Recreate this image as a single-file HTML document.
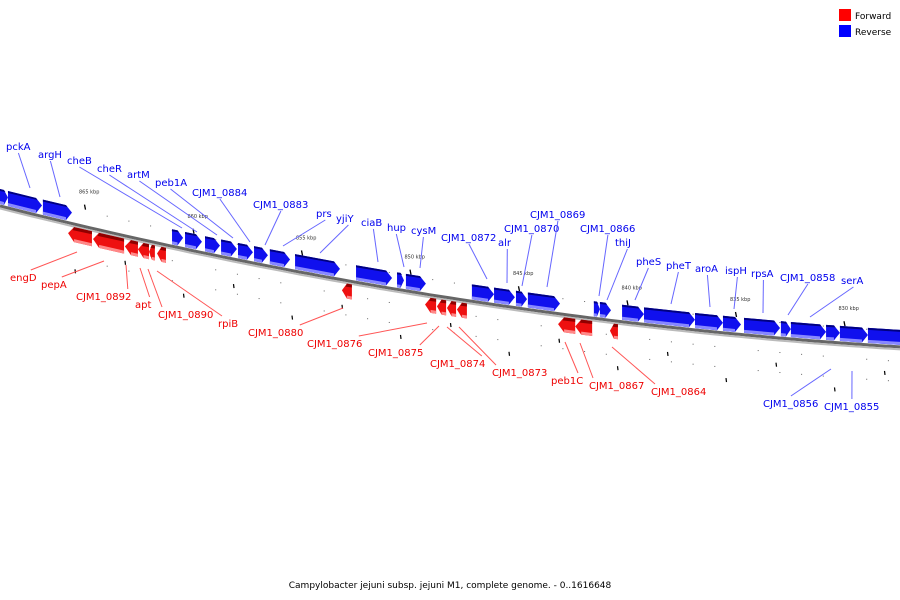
<!DOCTYPE html>
<html><head><meta charset="utf-8"><style>
html,body{margin:0;padding:0;background:#fff;}
svg{display:block;font-family:"DejaVu Sans","Liberation Sans",sans-serif;}
</style></head><body>
<svg id="chart" width="900" height="600" viewBox="0 0 900 600" xmlns="http://www.w3.org/2000/svg">
<g>
<rect x="839" y="9" width="12" height="12" fill="#ff0000"/>
<text x="855" y="19" font-size="9" fill="#000">Forward</text>
<rect x="839" y="25" width="12" height="12" fill="#0000ff"/>
<text x="855" y="35" font-size="9" fill="#000">Reverse</text>
</g>
<text x="450" y="588" text-anchor="middle" font-size="9" fill="#000">Campylobacter jejuni subsp. jejuni M1, complete genome. - 0..1616648</text>
<g id="backbone"></g>
<g id="ticks"></g>
<g id="genes"></g>
<g id="labels"></g>
</svg>
<script>
// tick positions (kbp)
const tickKbp = [865, 860, 855, 850, 845, 840, 835, 830];
const tickLabels = ["865 kbp","860 kbp","855 kbp","850 kbp","845 kbp","840 kbp","835 kbp","830 kbp"];
// gene data (kbp start/end, strand)
const geneNames = ["", "pckA","argH","cheB","cheR","artM","peb1A","CJM1_0884","CJM1_0883","prs","yjiY","ciaB","hup","cysM",
 "CJM1_0872","alr","CJM1_0870","CJM1_0869","CJM1_0866","thiJ","pheS","pheT","aroA","ispH","rpsA","CJM1_0858","g1","g2","serA",
 "engD","pepA","CJM1_0892","apt","CJM1_0890","rpiB","CJM1_0880","CJM1_0876","CJM1_0875","CJM1_0874","CJM1_0873","peb1C","CJM1_0867","CJM1_0864"];
const geneStart = [868.92,868.55,866.94,860.99,860.39,859.47,858.73,857.95,857.21,856.48,855.32,852.51,850.62,850.21,
 847.17,846.15,845.14,844.59,841.55,841.27,840.25,839.24,836.89,835.60,834.63,832.93,832.47,830.85,830.21,
 865.78,864.63,863.16,862.56,862.05,861.68,853.16,849.33,848.78,848.32,847.86,843.20,842.41,840.81];
const geneEnd = [868.55,866.98,865.60,860.48,859.61,858.78,858.00,857.26,856.57,855.55,853.25,850.85,850.30,849.29,
 846.15,845.19,844.63,843.11,841.27,840.76,839.24,836.89,835.60,834.77,832.97,832.47,830.85,830.21,828.92,
 864.68,863.20,862.56,862.05,861.78,861.27,852.70,848.82,848.36,847.90,847.40,842.41,841.63,840.44];
const geneStrand = ["-","-","-","-","-","-","-","-","-","-","-","-","-","-",
 "-","-","-","-","-","-","-","-","-","-","-","-","-","-","-",
 "+","+","+","+","+","+","+","+","+","+","+","+","+","+"];
// extra blue gene at far right edge
geneNames.push("edge"); geneStart.push(828.92); geneEnd.push(827.0); geneStrand.push("-");

// label layout: name, text x, text y, leader end x, leader end y
const labelLayout = [
 ["pckA",6,150,30,188,"b"],["argH",38,158,60,197,"b"],["cheB",67,164,182,228,"b"],["cheR",97,172,197,232,"b"],
 ["artM",127,178,217,235,"b"],["peb1A",155,186,233,238,"b"],["CJM1_0884",192,196,250,242,"b"],["CJM1_0883",253,208,265,245,"b"],
 ["prs",316,217,283,246,"b"],["yjiY",336,222,320,253,"b"],["ciaB",361,226,378,262,"b"],["hup",387,231,404,267,"b"],
 ["cysM",411,234,420,268,"b"],["CJM1_0872",441,241,487,279,"b"],["alr",498,246,507,283,"b"],["CJM1_0870",504,232,522,286,"b"],
 ["CJM1_0869",530,218,547,287,"b"],["CJM1_0866",580,232,599,296,"b"],["thiJ",615,246,607,300,"b"],["pheS",636,265,635,300,"b"],
 ["pheT",666,269,671,304,"b"],["aroA",695,272,710,307,"b"],["ispH",725,274,734,309,"b"],["rpsA",751,277,763,313,"b"],
 ["CJM1_0858",780,281,788,315,"b"],["serA",841,284,810,317,"b"],["CJM1_0856",763,407,831,369,"b"],["CJM1_0855",824,410,852,371,"b"],
 ["engD",10,281,77,252,"r"],["pepA",41,288,104,261,"r"],["CJM1_0892",76,300,126,265,"r"],["apt",135,308,140,268,"r"],
 ["CJM1_0890",158,318,148,269,"r"],["rpiB",218,327,157,271,"r"],["CJM1_0880",248,336,343,308,"r"],["CJM1_0876",307,347,427,323,"r"],
 ["CJM1_0875",368,356,439,326,"r"],["CJM1_0874",430,367,447,327,"r"],["CJM1_0873",492,376,459,327,"r"],["peb1C",551,384,565,342,"r"],
 ["CJM1_0867",589,389,580,343,"r"],["CJM1_0864",651,395,612,347,"r"]
];

const NS="http://www.w3.org/2000/svg";
function X(k){return 85+(865-k)*21.7;}
function L(x){return 206+0.252*x-1.06e-4*x*x;}
function mk(tag,attrs,parent){const e=document.createElementNS(NS,tag);for(const a in attrs)e.setAttribute(a,attrs[a]);parent.appendChild(e);return e;}

// backbone
const bb=document.getElementById('backbone');
let d1="",d2="";
for(let x=0;x<=900;x+=10){d1+=(x?"L":"M")+x+","+L(x).toFixed(1)+" ";d2+=(x?"L":"M")+x+","+(L(x)+2.5).toFixed(1)+" ";}
const p1=mk('path',{d:d1,stroke:'#666',"stroke-width":'3',fill:'none'},bb);


const p2=mk('path',{d:d2,stroke:'#bbb',"stroke-width":'2',fill:'none'},bb);



// ticks
const tg=document.getElementById('ticks');
tickKbp.forEach((k,i)=>{
  const x=X(k),y=L(x);
  const t=mk('line',{x1:x-0.5,y1:y-22,x2:x+0.5,y2:y-17,stroke:'#000',"stroke-width":'1.3'},tg);
  
  
  const tx=mk('text',{x:x-6,y:y-33,"font-size":'5',fill:'#333'},tg);
  tx.textContent=tickLabels[i];
  
  
  // lower ticks
  [25,45].forEach((off,j)=>{
    const lx=x+(j?-10:40);
    const ly=L(lx)+off;
    const t2=mk('line',{x1:lx,y1:ly,x2:lx+0.5,y2:ly+4,stroke:'#000',"stroke-width":'1.2'},tg);
    
    
  });
  for(let m=1;m<5;m++){
    const dx=x+m*21.7;const dy=L(dx);
    [-16,14,34].forEach(o=>{
      const c=mk('rect',{x:dx,y:dy+o,width:1,height:1,fill:'#666'},tg);
      
      
    });
  }
});

// genes
const gg=document.getElementById('genes');
for(let i=0;i<geneNames.length;i++){
  let xa=X(geneStart[i]),xb=X(geneEnd[i]);
  const x1=Math.min(xa,xb),x2=Math.max(xa,xb);
  const fwd=geneStrand[i]==="+";
  const h=15;
  const tip=Math.min(6,(x2-x1)*0.5);
  let top1,top2,pts;
  const g=mk('g',{},gg);
  
  
  if(!fwd){
    const o1=L(x1)-h-2,o2=L(x2)-h-2;
    const xm=x2-tip;const om=L(xm)-h-2;
    pts=[[x1,o1],[xm,om],[x2,om+h/2],[xm,om+h],[x1,o1+h]];
    mk('polygon',{points:pts.map(p=>p.join(',')).join(' '),fill:'#1010ee'},g);
    mk('polygon',{points:[[x1,o1],[xm,om],[xm+1.5,om+2],[x1,o1+2]].map(p=>p.join(',')).join(' '),fill:'#000080'},g);
    mk('polygon',{points:[[x1,o1+h-3],[xm,om+h-3],[xm,om+h],[x1,o1+h]].map(p=>p.join(',')).join(' '),fill:'#8888ff'},g);
  } else {
    const o1=L(x1)+3,o2=L(x2)+3;
    const xm=x1+tip;const om=L(xm)+3;
    pts=[[x1,o1+h/2],[xm,om],[x2,o2],[x2,o2+h],[xm,om+h]];
    mk('polygon',{points:pts.map(p=>p.join(',')).join(' '),fill:'#ee1010'},g);
    mk('polygon',{points:[[xm,om],[x2,o2],[x2,o2+3],[xm-1.5,om+3]].map(p=>p.join(',')).join(' '),fill:'#900000'},g);
    mk('polygon',{points:[[xm,om+h-3],[x2,o2+h-3],[x2,o2+h],[xm,om+h]].map(p=>p.join(',')).join(' '),fill:'#ff8888'},g);
  }
}

// labels
const lg=document.getElementById('labels');
labelLayout.forEach(l=>{
  const col=l[5]==="b"?"#0000ee":"#ee0000";
  const w=l[0].length*6.2;
  const below=l[2]>l[4];
  let sx,sy;
  if(l[5]==="b" && !below){sx=l[1]+w/2;sy=l[2]+3;} else if(l[5]==="b"){sx=l[1]+w/2;sy=l[2]-11;}
  else {sx=l[1]+w/2; sy=l[2]-11;}
  if(l[5]==="r"){ sx = l[3]<l[1]? l[1]+4 : l[1]+w-4; }
  const ln=mk('line',{x1:sx,y1:sy,x2:l[3],y2:l[4],stroke:l[5]==="b"?'#6666ff':'#ff5555',"stroke-width":'1'},lg);
  
  
  const t=mk('text',{x:l[1],y:l[2],"font-size":'10',fill:col},lg);
  t.textContent=l[0];
  
  
});
</script>
</body></html>
